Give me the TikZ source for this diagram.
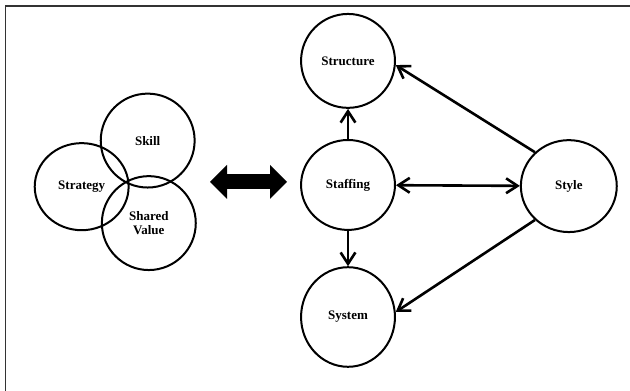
\documentclass[tikz,border=0pt]{standalone}
\usepackage{fontspec}
\setmainfont{Liberation Serif}
\usetikzlibrary{arrows.meta,
                positioning,
                shapes.geometric}

\begin{document}
\begin{tikzpicture}[
    node distance = 4.36cm,
        ring/.style = {draw, ellipse, line width=2pt, minimum width=3.3cm, minimum height=3.3cm,
                       inner sep=0pt, align=center, font=\fontsize{13}{14.5}\selectfont\bfseries},
       frame/.style = {draw=black!80, line width=1.2pt},
    fatarrow/.style = {line width=5.3mm,
                       {Triangle[length=6mm,width=11.6mm]}-{Triangle[length=6mm,width=11.6mm]}},
        link/.style = {line width=2.6pt},
    >={Straight Barb[length=4mm,width=5.2mm]}
                    ]
  \useasboundingbox (0,0) rectangle (22.14,-13.74);
  \draw [frame] (0.19,-13.74) |- (22.14,-0.21);
  % left cluster
  \node [ring] (skill) at (5.19,-4.94) {Skill};
  \node [ring, left of=skill, xshift=2.04cm, yshift=-1.62cm, minimum height=3.06cm] (strategy) {Strategy};
  \node [ring, below of=skill, xshift=0.04cm, yshift=1.46cm] (shared) {Shared\\ Value};
  %---
  \coordinate (lnkL) at (7.38,-6.39);
  \coordinate (lnkR) at (10.09,-6.39);
  \draw [fatarrow] (lnkL) -- (lnkR);
  % right side
  \node [ring, minimum height=3.16cm] (staffing) at (12.23,-6.5) {Staffing};
  \node [ring, above of=staffing] (structure) {Structure};
  \node [ring, below of=staffing, yshift=-0.28cm, minimum height=3.5cm] (system) {System};
  \node [ring, right of=staffing, xshift=3.4cm, yshift=-0.04cm, minimum width=3.37cm, minimum height=3.23cm] (style) {Style};
  %---
  \draw
      (staffing) edge[link, ->]  (structure)
      (staffing) edge[link, ->]  (system)
      (staffing) edge[link, <->] (style)
      (style.135) edge[link, ->] (structure.-5)
      (style.225) edge[link, ->] (system.6)
  ;
\end{tikzpicture}
\end{document}
